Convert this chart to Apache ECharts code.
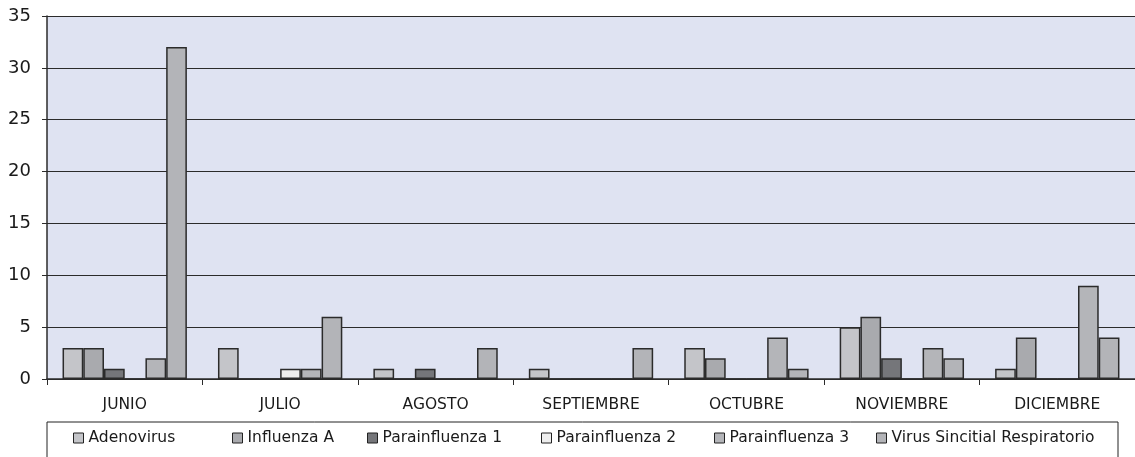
<!DOCTYPE html>
<html>
<head>
<meta charset="utf-8">
<script src="https://cdn.jsdelivr.net/npm/echarts@6/dist/echarts.min.js"></script>
<style>
html, body { margin: 0; padding: 0; background: #fff; }
#chart { width: 1135px; height: 457px; }
</style>
</head>
<body>
<div id="chart"></div>
<script>
'use strict';

// meses y valores
var meses = ['JUNIO', 'JULIO', 'AGOSTO', 'SEPTIEMBRE', 'OCTUBRE', 'NOVIEMBRE', 'DICIEMBRE'];
var adenovirus = [3, 3, 1, 1, 3, 5, 1];
var influenzaA = [3, 0, 0, 0, 2, 6, 4];
var parainfluenza1 = [1, 0, 1, 0, 0, 2, 0];
var parainfluenza2 = [0, 1, 0, 0, 0, 0, 0];
var parainfluenza3 = [2, 1, 0, 0, 4, 3, 9];
var vsr = [32, 6, 3, 3, 1, 2, 4];
var yTicks = [0, 5, 10, 15, 20, 25, 30, 35];

var nombres = ['Adenovirus', 'Influenza A', 'Parainfluenza 1', 'Parainfluenza 2', 'Parainfluenza 3', 'Virus Sincitial Respiratorio'];
var valores = [adenovirus, influenzaA, parainfluenza1, parainfluenza2, parainfluenza3, vsr];
var colores = ['#c4c5c9', '#a9aaae', '#75767a', '#eeeeee', '#b4b5b9', '#b3b4b8'];
var legendX = [73, 232, 367, 541, 714, 876];

var fuente = 'DejaVu Sans';

var series = nombres.map(function (n, i) {
    return {
        name: n,
        type: 'bar',
        data: valores[i],
        barGap: '0%',
        barCategoryGap: '20%',
        itemStyle: { color: colores[i], borderColor: '#2b2b2b', borderWidth: 1.5 },
        emphasis: { disabled: true }
    };
});

var legends = nombres.map(function (n, i) {
    return {
        data: [n],
        left: legendX[i],
        top: 430,
        padding: 0,
        icon: 'rect',
        itemWidth: 10,
        itemHeight: 10,
        itemGap: 0,
        selectedMode: false,
        itemStyle: { borderColor: '#222', borderWidth: 1 },
        textStyle: { fontFamily: fuente, fontSize: 15.5, color: '#1a1a1a' }
    };
});

var myChart = echarts.init(document.getElementById('chart'), null, { renderer: 'canvas' });

var option = {
    animation: false,
    backgroundColor: '#ffffff',
    grid: {
        left: 47, right: -4, top: 16, bottom: 78,
        show: true,
        backgroundColor: '#dfe3f2',
        borderWidth: 0
    },
    legend: legends,
    xAxis: {
        type: 'category',
        data: meses,
        axisLine: { lineStyle: { color: '#2b2b2b', width: 1.5 } },
        axisTick: { show: true, length: 6, lineStyle: { color: '#2b2b2b' } },
        axisLabel: { fontFamily: fuente, fontSize: 15.5, color: '#1a1a1a', margin: 18 }
    },
    yAxis: {
        type: 'value',
        min: yTicks[0],
        max: yTicks[yTicks.length - 1],
        interval: 5,
        axisLine: { show: true, lineStyle: { color: '#2b2b2b', width: 1.5 } },
        axisTick: { show: true, length: 5, lineStyle: { color: '#2b2b2b' } },
        axisLabel: { fontFamily: fuente, fontSize: 18, color: '#1a1a1a', margin: 16 },
        splitLine: { show: true, lineStyle: { color: '#2b2b2b', width: 1 } }
    },
    graphic: [{
        type: 'rect',
        shape: { x: 47, y: 422, width: 1071, height: 60 },
        style: { fill: 'none', stroke: '#222', lineWidth: 1 },
        silent: true
    }],
    series: series
};

myChart.setOption(option);
</script>
</body>
</html>
